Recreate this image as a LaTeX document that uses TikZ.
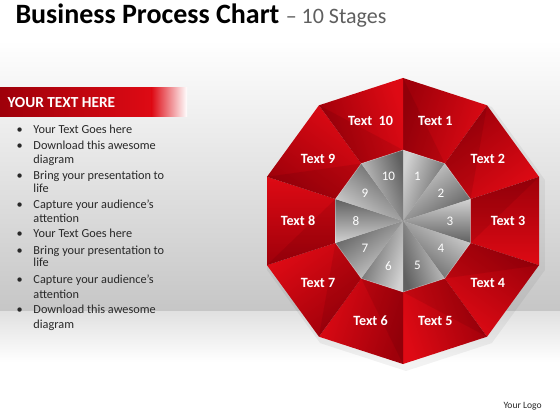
\documentclass[tikz,border=0pt]{standalone}
\usepackage{fontspec}
\setmainfont{Carlito}

\definecolor{redBright}{RGB}{222,10,20}
\definecolor{redDark}{RGB}{158,0,10}
\definecolor{greyLight}{RGB}{210,210,210}
\definecolor{greyDark}{RGB}{96,96,96}
\definecolor{bgGrey}{RGB}{198,198,198}
\definecolor{floorGrey}{RGB}{224,224,224}
\definecolor{bodyText}{RGB}{40,40,40}
\definecolor{subGrey}{RGB}{95,95,95}

\tikzset{every picture/.style={line width=0.75pt}}
\tikzset{
  seglabel/.style={text=white, font=\fontsize{10.6}{12}\selectfont\bfseries, inner sep=0.75pt},
  numlabel/.style={text=white, font=\fontsize{9.8}{11}\selectfont, inner sep=0.75pt},
  itemtext/.style={anchor=base west, inner sep=0pt, text=bodyText, font=\fontsize{9.2}{11}\selectfont},
}

\begin{document}
\begin{tikzpicture}[x=0.75pt,y=0.75pt,yscale=-1,xscale=1]
	\useasboundingbox (0,0) rectangle (560,420);

	%Shape: Background wall and floor
	\fill [white] (0,0) rectangle (560,420);
	\shade [top color=white, bottom color=bgGrey] (0,40) rectangle (560,311);
	\shade [top color=floorGrey, bottom color=white] (0,311) rectangle (560,362);

	%Shape: Header bar
	\shade [left color=redDark, right color=redBright] (0,88) rectangle (152,117);
	\shade [left color=redBright, right color=white] (151.5,88) rectangle (187,117);

	% Text Node
	\node [anchor=base west, inner sep=0pt] (title) at (15,24) {\fontsize{21}{24}\selectfont\bfseries Business Process Chart {\fontsize{16.5}{20}\selectfont\mdseries\color{subGrey}– 10 Stages}};
	% Text Node
	\node [anchor=base west, inner sep=0pt, text=white, font=\fontsize{11.5}{14}\selectfont\bfseries] (header) at (7,108) {YOUR TEXT HERE};

	% Bullet list
	\foreach \yy [count=\i] in {134,150,180,209,238,254,283,313}
		\node [itemtext] (dot\i) at (16,\yy) {•};
	\foreach \yy/\txt [count=\i] in {134/Your Text Goes here, 150/Download this awesome, 164/diagram,
		180/Bring your presentation to, 193/life, 209/Capture your audience’s, 223/attention,
		238/Your Text Goes here, 254/Bring your presentation to, 267/life,
		283/Capture your audience’s, 298/attention, 313/Download this awesome, 328/diagram}
		\node [itemtext] (line\i) at (33,\yy) {\txt};

	%Shape: Decagon chart
	\begin{scope}[shift={(403,221)}]
		\foreach \k in {0,...,10} {
			\coordinate (out\k) at (36*\k-90:143);
			\coordinate (in\k) at (36*\k-90:71);
		}
		\coordinate (ctr) at (0,0);
		% soft shadow
		\fill [black, opacity=0.05, shift={(3,4)}] (-90:146) \foreach \k in {1,...,9} { -- (36*\k-90:146) } -- cycle;
		% outer red segments
		\foreach \k [count=\j from 0] in {1,...,10} {
			\shade [top color=redDark, bottom color=redBright, shading angle=108-36*\k]
				(out\j) -- (out\k) -- (in\k) -- (in\j) -- cycle;
			\fill [black, opacity=0.08] (out\j) -- (in\j) -- (in\k) -- cycle;
		}
		% inner grey triangles
		\foreach \k [count=\j from 0] in {1,...,10} {
			\shade [top color=greyLight, bottom color=greyDark, shading angle=108-36*\k]
				(ctr) -- (in\j) -- (in\k) -- cycle;
		}
		\draw [white, opacity=0.3, line width=0.5pt] (in0) \foreach \k in {1,...,10} { -- (in\k) };
		% labels
		\foreach \k in {1,...,9}
			\node [seglabel] (txt\k) at (36*\k-108:105) {Text \k};
		\node [seglabel] (txt10) at (252:105) {Text~~10};
		\foreach \k in {1,...,10}
			\node [numlabel] (num\k) at (36*\k-108:47) {\k};
	\end{scope}

	% Text Node
	\node [anchor=base west, inner sep=0pt, text=bodyText, font=\fontsize{7.2}{9}\selectfont] (logo) at (503,408) {Your Logo};

\end{tikzpicture}
\end{document}
